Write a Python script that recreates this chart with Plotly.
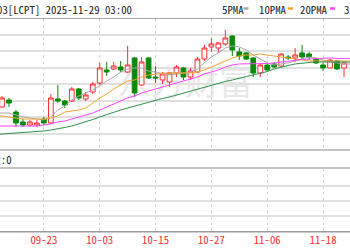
import plotly.graph_objects as go

dates = ["2025-09-12","2025-09-15","2025-09-16","2025-09-17","2025-09-18","2025-09-19","2025-09-22",
         "2025-09-23","2025-09-24","2025-09-25","2025-09-26","2025-09-29","2025-09-30","2025-10-01",
         "2025-10-02","2025-10-03","2025-10-06","2025-10-07","2025-10-08","2025-10-09","2025-10-10",
         "2025-10-13","2025-10-14","2025-10-15","2025-10-16","2025-10-17","2025-10-20","2025-10-21",
         "2025-10-22","2025-10-23","2025-10-24","2025-10-27","2025-10-28","2025-10-29","2025-10-30",
         "2025-10-31","2025-11-03","2025-11-04","2025-11-05","2025-11-06","2025-11-07","2025-11-10",
         "2025-11-11","2025-11-12","2025-11-13","2025-11-14","2025-11-17","2025-11-18","2025-11-19",
         "2025-11-20","2025-11-21","2025-11-24"]

open_ = [None,
    10123,10208,10062,9941,9904,9904,9977,9929,10221,10196,
    10196,10342,10221,10306,10415,10574,10586,10610,10549,10720,
    10391,10720,10488,10452,10428,10537,10598,10488,10549,10707,
    10854,10841,10890,10987,10793,10781,10720,10537,10634,10647,
    10622,10732,10720,10781,10768,10707,10634,10598,10683,10598,
    None]
high = [None,
    10257,10233,10087,9977,9965,9965,10002,10281,10391,10208,
    10367,10355,10306,10428,10659,10671,10671,10683,10866,10732,
    10732,10732,10622,10549,10549,10634,10610,10598,10732,10878,
    10963,10914,11060,10993,10841,10793,10732,10647,10647,10671,
    10781,10756,10841,10878,10793,10720,10659,10707,10695,10671,
    None]
low = [None,
    10111,10123,9880,9880,9880,9880,9904,9917,10172,10111,
    10184,10208,10196,10281,10391,10501,10574,10549,10537,10245,
    10379,10464,10415,10403,10367,10488,10452,10452,10537,10683,
    10793,10781,10866,10744,10695,10695,10488,10488,10561,10598,
    10610,10695,10671,10707,10695,10647,10561,10598,10574,10488,
    None]
close = [None,
    10233,10172,9929,9904,9941,9929,9929,10233,10196,10148,
    10342,10233,10269,10403,10598,10549,10622,10574,10634,10294,
    10671,10476,10476,10525,10537,10610,10488,10561,10707,10841,
    10890,10902,10963,10817,10744,10707,10537,10634,10574,10610,
    10768,10720,10756,10732,10732,10659,10598,10695,10586,10659,
    None]

ma5 = [10050,
    10050,10050,10026,10002,9989,9977,9965,10002,10087,10135,
    10208,10257,10294,10330,10379,10440,10488,10549,10586,10598,
    10598,10561,10549,10525,10513,10525,10537,10549,10586,10659,
    10732,10781,10841,10866,10854,10817,10756,10707,10659,10634,
    10647,10659,10683,10707,10732,10720,10695,10671,10659,10647,
    10647]
ma10 = [10026,
    10014,10002,9989,9977,9977,9977,9977,9989,10014,10062,
    10075,10087,10111,10172,10233,10281,10342,10391,10440,10452,
    10488,10513,10525,10531,10537,10537,10537,10537,10549,10574,
    10610,10647,10683,10720,10744,10756,10756,10768,10756,10744,
    10732,10720,10707,10695,10683,10683,10683,10683,10683,10683,
    10683]
ma20 = [9892,
    9892,9892,9892,9892,9892,9892,9904,9917,9941,9953,
    9977,10002,10026,10050,10087,10123,10160,10196,10233,10257,
    10294,10318,10342,10367,10385,10415,10440,10464,10488,10525,
    10549,10574,10610,10634,10647,10647,10647,10647,10653,10659,
    10671,10683,10695,10701,10707,10714,10720,10720,10714,10714,
    10714]
ma30 = [9789,
    9795,9795,9801,9807,9813,9819,9831,9843,9856,9874,
    9892,9917,9941,9971,10002,10032,10062,10087,10111,10135,
    10160,10184,10208,10227,10245,10269,10294,10318,10342,10367,
    10391,10415,10434,10452,10476,10494,10513,10531,10555,10586,
    10610,10628,10647,10659,10665,10671,10671,10671,10671,10671,
    10671]

tick_dates = ["2025-09-23","2025-10-03","2025-10-15","2025-10-27","2025-11-06","2025-11-18"]
tick_text = ["09-23","10-03","10-15","10-27","11-06","11-18"]
price_grid = [9800, 10000, 10200, 10400, 10600, 10800, 11000]

title_text = "03[LCPT] 2025-11-29 03:00"
legend_names = ["5PMA", "10PMA", "20PMA", "30PMA"]
ma_colors = ["#a8a8a8", "#f2a531", "#ff45ff", "#2f8f4f"]

W, H = 350, 250
def px(x):
    return x / W
def py(y):
    return 1 - y / H

FONT = "Noto Sans Mono CJK SC, Liberation Mono, monospace"
RED = "#ff3030"
GREEN = "#0a8a0a"

fig = go.Figure()

for ma, name, col in zip([ma5, ma10, ma20, ma30], legend_names, ma_colors):
    fig.add_trace(go.Scatter(x=dates, y=ma, mode="lines", name=name,
                             line=dict(color=col, width=1), hoverinfo="skip",
                             xaxis="x", yaxis="y"))

fig.add_trace(go.Candlestick(
    x=dates, open=open_, high=high, low=low, close=close,
    increasing=dict(line=dict(color=RED, width=1), fillcolor="#ffffff"),
    decreasing=dict(line=dict(color=GREEN, width=1), fillcolor=GREEN),
    whiskerwidth=0, xaxis="x", yaxis="y", name="K"))

# empty lower panel (volume = 0)
fig.add_trace(go.Scatter(x=dates, y=[None] * len(dates), mode="lines",
                         xaxis="x2", yaxis="y2", hoverinfo="skip"))

x_range = [0.713, 50.86]
grid_col = "#e0e0e0"
vgrid = "#d4d4d4"

fig.update_layout(
    width=W, height=H, margin=dict(l=0, r=0, t=0, b=0),
    paper_bgcolor="white", plot_bgcolor="white", showlegend=False,
    boxgap=0.32, boxgroupgap=0,
    xaxis=dict(type="category", categoryorder="array", categoryarray=dates,
               range=x_range, domain=[0, 1], anchor="y",
               tickvals=tick_dates, ticktext=tick_text, showticklabels=False,
               showgrid=True, gridcolor=vgrid, gridwidth=1, griddash="3px,3px",
               zeroline=False, showline=False, ticks="",
               rangeslider=dict(visible=False)),
    yaxis=dict(domain=[py(150), py(18.5)], range=[9600, 11200], anchor="x",
               tickvals=price_grid, showticklabels=False, showgrid=True,
               gridcolor=grid_col, gridwidth=1.5, zeroline=False, showline=False, ticks=""),
    xaxis2=dict(type="category", categoryorder="array", categoryarray=dates,
                range=x_range, domain=[0, 1], anchor="y2", matches="x",
                tickvals=tick_dates, ticktext=tick_text, showticklabels=True,
                tickfont=dict(family=FONT, size=10.8, color=RED),
                showgrid=True, gridcolor=vgrid, gridwidth=1, griddash="3px,3px",
                zeroline=False, showline=False, ticks="", ticklen=0),
    yaxis2=dict(domain=[py(231.7), py(168)], range=[-0.047, 4.2], anchor="x2",
                tickvals=[1, 2, 3], showticklabels=False, showgrid=True,
                gridcolor=grid_col, gridwidth=1.5, zeroline=False, showline=False, ticks=""),
)

shapes = []
def hline(y, color, width):
    shapes.append(dict(type="line", xref="paper", yref="paper", x0=0, x1=1,
                       y0=py(y), y1=py(y), line=dict(color=color, width=width)))
hline(18.5, "#a6a6a6", 1)
hline(150, "#c4c4c4", 2)
hline(168, "#c4c4c4", 2)
hline(231.7, "#9a9a9a", 1.5)

# watermark
shapes.append(dict(type="rect", xref="paper", yref="paper", layer="between",
                   x0=px(100), x1=px(270), y0=py(105), y1=py(66),
                   line=dict(width=0), fillcolor="rgba(0,0,0,0)",
                   label=dict(text="东方财富", font=dict(family="Noto Sans CJK SC", size=34,
                                                    color="#e8e8e8"),
                              textposition="middle center")))

# legend markers
marker_x = [243.5, 288, 330, 372]
for mx, col in zip(marker_x, ma_colors):
    shapes.append(dict(type="line", xref="paper", yref="paper", x0=px(mx), x1=px(mx + 5),
                       y0=py(8.5), y1=py(8.5), line=dict(color=col, width=2.5)))
fig.update_layout(shapes=shapes)

ann = []
ann.append(dict(text=title_text, x=px(-4.8), y=py(8.5), xref="paper", yref="paper",
                xanchor="left", yanchor="middle", showarrow=False,
                font=dict(family=FONT, size=10.8, color="#222")))
legend_x = [220, 257, 298, 342]
for lx, name in zip(legend_x, legend_names):
    ann.append(dict(text=name, x=px(lx), y=py(8.5), xref="paper", yref="paper",
                    xanchor="left", yanchor="middle", showarrow=False,
                    font=dict(family=FONT, size=10.8, color="#222")))
ann.append(dict(text="量:0", x=px(-12.3), y=py(159), xref="paper", yref="paper",
                xanchor="left", yanchor="middle", showarrow=False,
                font=dict(family=FONT, size=10.8, color="#222")))
fig.update_layout(annotations=ann)

fig.write_html("out.html")
